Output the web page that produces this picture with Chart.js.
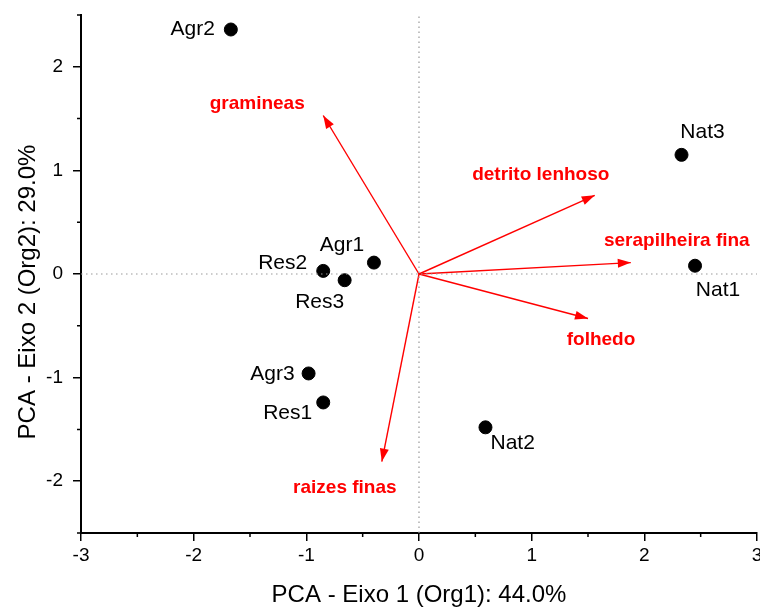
<!DOCTYPE html>
<html>
<head>
<meta charset="utf-8">
<script src="https://cdn.jsdelivr.net/npm/chart.js@4"></script>
<style>
  html, body { margin: 0; padding: 0; background: #fff; }
  #wrap { width: 760px; height: 608px; }
</style>
</head>
<body>
<div id="wrap"><canvas id="pcaChart" width="760" height="608"></canvas></div>
<script>
// sample scores
const sampleNames = ['Agr1', 'Agr2', 'Agr3', 'Res1', 'Res2', 'Res3', 'Nat1', 'Nat2', 'Nat3'];
const sampleX = [-0.40, -1.67, -0.98, -0.85, -0.85, -0.66, 2.45, 0.59, 2.33];
const sampleY = [0.11, 2.36, -0.96, -1.24, 0.03, -0.06, 0.08, -1.48, 1.15];

// variable loadings (arrow tips)
const varNames = ['gramineas', 'detrito lenhoso', 'serapilheira fina', 'folhedo', 'raizes finas'];
const varX = [-0.85, 1.56, 1.88, 1.50, -0.33];
const varY = [1.53, 0.76, 0.11, -0.43, -1.81];

const xTickLabels = ['-3', '-2', '-1', '0', '1', '2', '3'];
const yTickLabels = ['-2', '-1', '0', '1', '2'];

// label offsets in pixels (dx, dy, align)
const sampleLabelPos = [
    [-32, -17, 'center'], [-16, 0, 'right'], [-14, 1, 'right'],
    [-11, 11, 'right'], [-16, -8, 'right'], [-25, 22, 'center'],
    [23, 24, 'center'], [5, 16, 'left'], [21, -23, 'center']
];
const varLabelPos = [[-66, -12], [-54, -20], [46, -22], [13, 21], [-37, 26]];

const FONT = '"Liberation Sans", Arial, sans-serif';

const datasets = [];

// dotted zero lines
datasets.push({
    data: [{x: 0, y: -2.5}, {x: 0, y: 2.5}],
    showLine: true, borderColor: '#999', borderWidth: 1.2, borderDash: [1.5, 3.5],
    pointRadius: 0
});
datasets.push({
    data: [{x: -3, y: 0}, {x: 3, y: 0}],
    showLine: true, borderColor: '#999', borderWidth: 1.2, borderDash: [1.5, 3.5],
    pointRadius: 0
});

// arrows
varNames.forEach(function(name, i) {
    datasets.push({
        label: name,
        data: [{x: 0, y: 0}, {x: varX[i], y: varY[i]}],
        showLine: true, borderColor: '#ff0000', borderWidth: 1.4,
        pointRadius: 0
    });
});

// samples
datasets.push({
    label: 'samples',
    data: sampleX.map(function(x, i) { return {x: x, y: sampleY[i]}; }),
    backgroundColor: '#000', borderColor: '#000',
    pointRadius: 6.5, pointHoverRadius: 6.5
});

function majorOnly(ctx) {
    return ctx.tick && Number.isInteger(ctx.tick.value) ? '#000' : 'rgba(0,0,0,0)';
}

const biplotPlugin = {
    id: 'biplotLabels',
    afterLayout(chart) {
        // let the last x tick label hang over the edge, like the original
        const xs = chart.scales.x;
        const right = chart.width - 3;
        if (xs.right !== right) {
            xs.right = right;
            xs.width = right - xs.left;
            chart.chartArea.right = right;
            chart.chartArea.width = right - chart.chartArea.left;
            xs.configure();
        }
    },
    afterDraw(chart) {
        const ctx = chart.ctx;
        const xs = chart.scales.x, ys = chart.scales.y;
        const area = chart.chartArea;
        ctx.save();

        // minor ticks (half units)
        ctx.strokeStyle = '#000';
        ctx.lineWidth = 1.5;
        ctx.beginPath();
        xs.ticks.forEach(function(t) {
            if (Number.isInteger(t.value)) return;
            const px = xs.getPixelForValue(t.value);
            ctx.moveTo(px, area.bottom);
            ctx.lineTo(px, area.bottom + 4);
        });
        ys.ticks.forEach(function(t) {
            if (Number.isInteger(t.value)) return;
            const py = ys.getPixelForValue(t.value);
            ctx.moveTo(area.left, py);
            ctx.lineTo(area.left - 4, py);
        });
        ctx.stroke();

        // arrow heads + labels
        varNames.forEach(function(name, i) {
            const x0 = xs.getPixelForValue(0), y0 = ys.getPixelForValue(0);
            const x1 = xs.getPixelForValue(varX[i]), y1 = ys.getPixelForValue(varY[i]);
            const ang = Math.atan2(y1 - y0, x1 - x0);
            const len = 13, w = 4.5;
            ctx.fillStyle = '#ff0000';
            ctx.beginPath();
            ctx.moveTo(x1, y1);
            ctx.lineTo(x1 - len * Math.cos(ang) + w * Math.sin(ang), y1 - len * Math.sin(ang) - w * Math.cos(ang));
            ctx.lineTo(x1 - len * Math.cos(ang) - w * Math.sin(ang), y1 - len * Math.sin(ang) + w * Math.cos(ang));
            ctx.closePath();
            ctx.fill();

            ctx.font = 'bold 19px ' + FONT;
            ctx.textAlign = 'center';
            ctx.textBaseline = 'middle';
            ctx.fillText(name, x1 + varLabelPos[i][0], y1 + varLabelPos[i][1]);
        });

        // sample labels
        ctx.fillStyle = '#000';
        ctx.font = '21px ' + FONT;
        ctx.textBaseline = 'middle';
        sampleNames.forEach(function(name, i) {
            const px = xs.getPixelForValue(sampleX[i]), py = ys.getPixelForValue(sampleY[i]);
            const p = sampleLabelPos[i];
            ctx.textAlign = p[2];
            ctx.fillText(name, px + p[0], py + p[1]);
        });

        // y axis title
        ctx.font = '24px ' + FONT;
        ctx.textAlign = 'center';
        ctx.textBaseline = 'middle';
        ctx.translate(28, 292);
        ctx.rotate(-Math.PI / 2);
        ctx.fillText('PCA - Eixo 2 (Org2): 29.0%', 0, 0);
        ctx.restore();
    }
};

new Chart(document.getElementById('pcaChart').getContext('2d'), {
    type: 'scatter',
    data: { datasets: datasets },
    options: {
        responsive: false,
        animation: false,
        layout: { padding: { top: 15, right: 3, left: 0, bottom: 0 } },
        plugins: { legend: { display: false }, tooltip: { enabled: false } },
        scales: {
            x: {
                type: 'linear', min: -3, max: 3,
                afterFit: function(scale) {
                    scale.height = 75;
                    scale.paddingLeft = 0;
                    scale.paddingRight = 0;
                },
                ticks: {
                    stepSize: 0.5, color: '#000', padding: 3,
                    font: { family: FONT, size: 19 },
                    maxRotation: 0, autoSkip: false,
                    callback: function(v) {
                        return Number.isInteger(v) ? xTickLabels[v + 3] : '';
                    }
                },
                grid: { drawOnChartArea: false, drawTicks: true, tickLength: 8, color: majorOnly, lineWidth: 1.5 },
                border: { color: '#000', width: 2 },
                title: {
                    display: true, text: 'PCA - Eixo 1 (Org1): 44.0%', color: '#000',
                    font: { family: FONT, size: 24 }, padding: { top: 0, bottom: -2 }
                }
            },
            y: {
                type: 'linear', min: -2.5, max: 2.5,
                afterFit: function(scale) {
                    scale.width = 81;
                    scale.paddingTop = 0;
                    scale.paddingBottom = 0;
                },
                ticks: {
                    stepSize: 0.5, color: '#000', padding: 10,
                    font: { family: FONT, size: 19 }, autoSkip: false,
                    callback: function(v) {
                        return Number.isInteger(v) ? yTickLabels[v + 2] : '';
                    }
                },
                grid: { drawOnChartArea: false, drawTicks: true, tickLength: 8, color: majorOnly, lineWidth: 1.5 },
                border: { color: '#000', width: 2 }
            }
        }
    },
    plugins: [biplotPlugin]
});
</script>
</body>
</html>
